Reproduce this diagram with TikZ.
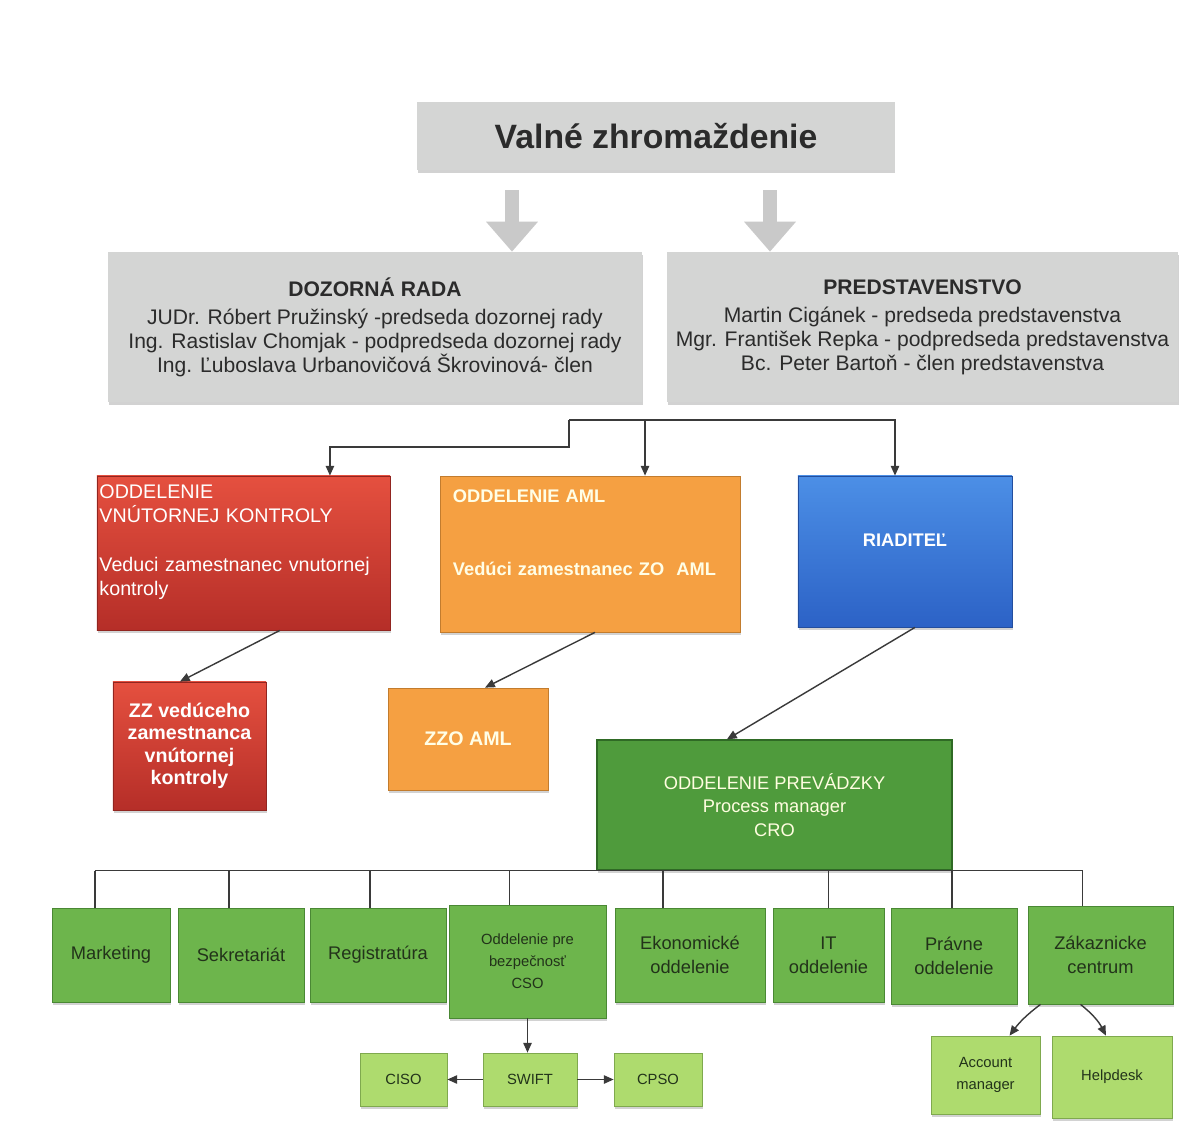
\documentclass[tikz,border=0pt]{standalone}
\usepackage{fontspec}
\setmainfont{Liberation Sans}
\usetikzlibrary{arrows.meta,shadows}
\newcommand{\fsTitle}{\fontsize{24}{28}\selectfont\bfseries}
\newcommand{\fsBoard}{\fontsize{15}{17}\selectfont}
\newcommand{\fsDept}{\fontsize{13}{17.5}\selectfont}
\newcommand{\fsUnit}{\fontsize{13}{17}\selectfont}
\newcommand{\fsLeaf}{\fontsize{10.5}{15.5}\selectfont}
\definecolor{boardgray}{HTML}{D4D5D4}
\definecolor{boardtext}{HTML}{2B2B2B}
\definecolor{redtop}{HTML}{E5503F}
\definecolor{redbot}{HTML}{B52E28}
\definecolor{amlorange}{HTML}{F5A042}
\definecolor{amledge}{HTML}{C27C2E}
\definecolor{bluetop}{HTML}{4C8FE6}
\definecolor{bluebot}{HTML}{2C62C6}
\definecolor{prevgreen}{HTML}{4F9B3C}
\definecolor{prevedge}{HTML}{2F6A25}
\definecolor{unitgreen}{HTML}{6DB54C}
\definecolor{unitedge}{HTML}{4A8834}
\definecolor{leafgreen}{HTML}{AEDB6E}
\definecolor{leafedge}{HTML}{7FA94E}
\definecolor{unittext}{HTML}{22331A}
\definecolor{linkgray}{HTML}{3A3A3A}
\definecolor{arrowgray}{HTML}{C9C9C9}
\tikzset{
  box/.style={rectangle, inner sep=2pt, align=center,
    drop shadow={shadow xshift=0.6pt, shadow yshift=-1.8pt, opacity=0.35}},
  graybox/.style={box, fill=boardgray, text=boardtext},
  redbox/.style={box, draw=redbot!80!black, line width=0.5pt, top color=redtop, bottom color=redbot, text=white},
  amlbox/.style={box, draw=amledge, line width=0.5pt, fill=amlorange, text=white!90!yellow},
  bluebox/.style={box, draw=bluebot!80!black, line width=0.5pt, top color=bluetop, bottom color=bluebot, text=white},
  prevbox/.style={box, draw=prevedge, line width=0.8pt, fill=prevgreen, text=white!88!yellow},
  unitbox/.style={box, draw=unitedge, line width=0.5pt, fill=unitgreen, text=unittext},
  leafbox/.style={box, draw=leafedge, line width=0.5pt, fill=leafgreen, text=unittext},
  link/.style={draw=linkgray, line width=1pt, -{Triangle[length=7pt,width=6pt]}},
  tie/.style={draw=linkgray, line width=0.8pt},
  bigarrow/.style={draw=arrowgray, line width=0.35cm, -{Triangle[length=0.75cm,width=1.25cm]}}
}

\begin{document}
\begin{tikzpicture}[x=0.025cm,y=-0.025cm]
     \fill[white] (0,0) rectangle (1196,1144);
     \node[graybox, font=\fsTitle, minimum width=11.925cm, minimum height=1.7cm] (vz) at (656,136) {Valné zhromaždenie};
     \node[graybox, font=\fsBoard, minimum width=13.35cm, minimum height=3.75cm] (dr) at (375,327)
        {{\bfseries DOZORNÁ RADA}\\[3pt]JUDr. Róbert Pružinský -predseda dozornej rady\\Ing. Rastislav Chomjak - podpredseda dozornej rady\\Ing. Ľuboslava Urbanovičová Škrovinová- člen};
     \node[graybox, font=\fsBoard, minimum width=12.775cm, minimum height=3.75cm] (pr) at (922.5,327)
        {{\bfseries PREDSTAVENSTVO}\\[3pt]Martin Cigánek - predseda predstavenstva\\Mgr. František Repka - podpredseda predstavenstva\\Bc. Peter Bartoň - člen predstavenstva};
     \coordinate (arrL) at (512,190);
     \coordinate (arrR) at (770,190);
     \draw[bigarrow] (arrL) -- (arrL |- dr.north);
     \draw[bigarrow] (arrR) -- (arrR |- pr.north);

     \node[redbox, font=\fontsize{14}{17.5}\selectfont, minimum width=7.325cm, minimum height=3.85cm, align=left, text width=7.2cm, inner xsep=1.5pt, text depth=88pt] (vk) at (243.5,553)
        {ODDELENIE\\VNÚTORNEJ KONTROLY\\[17pt]Veduci zamestnanec vnutornej\\kontroly};
     \node[amlbox, font=\fsDept\bfseries, minimum width=7.5cm, minimum height=3.9cm, align=left, text width=6.85cm, inner xsep=9pt, text depth=83pt] (aml) at (590,554)
        {ODDELENIE AML\\[35pt]Vedúci zamestnanec ZO\ \ AML};
     \node[bluebox, font=\fsDept\bfseries, minimum width=5.35cm, minimum height=3.775cm, text depth=16pt] (rd) at (905,551.5)
        {RIADITEĽ};
     \coordinate (split) at (569,420);
     \coordinate (step) at (569,447);
     \draw[link] (split) -- (step) -| ([xshift=2.16cm]vk.north);
     \draw[link] (split) -| ([xshift=-0.25cm]rd.north);
     \draw[link] ([xshift=1.375cm]aml.north |- split) -- ([xshift=1.375cm]aml.north);

     \node[redbox, font=\fontsize{14}{16}\selectfont\bfseries, minimum width=3.825cm, minimum height=3.2cm] (zzvk) at (189.5,746)
        {ZZ vedúceho\\zamestnanca\\vnútornej\\kontroly};
     \node[amlbox, font=\fontsize{14}{17}\selectfont\bfseries, minimum width=4cm, minimum height=2.55cm] (zzo) at (468,739)
        {ZZO AML};
     \node[prevbox, font=\fontsize{13}{16.5}\selectfont, minimum width=8.875cm, minimum height=3.25cm] (prev) at (774.5,805)
        {ODDELENIE PREVÁDZKY\\Process manager\\CRO};
     \draw[link] ([xshift=0.91cm]vk.south) -- ([xshift=-0.24cm]zzvk.north);
     \draw[link] ([xshift=0.125cm]aml.south) -- ([xshift=0.425cm]zzo.north);
     \draw[link] ([xshift=0.25cm]rd.south) -- ([xshift=-1.19cm]prev.north);

     \node[unitbox, font=\fsUnit, minimum width=2.95cm, minimum height=2.35cm] (mkt) at (111,955) {Marketing};
     \node[unitbox, font=\fsUnit, minimum width=3.15cm, minimum height=2.35cm] (sek) at (241,955) {Sekretariát};
     \node[unitbox, font=\fsUnit, minimum width=3.4cm, minimum height=2.35cm] (reg) at (378,955) {Registratúra};
     \node[unitbox, font=\fsLeaf, minimum width=3.925cm, minimum height=2.825cm] (cso) at (527.5,961.5) {Oddelenie pre\\bezpečnosť\\CSO};
     \node[unitbox, font=\fsUnit, minimum width=3.75cm, minimum height=2.35cm] (eko) at (690,955) {Ekonomické\\oddelenie};
     \node[unitbox, font=\fsUnit, minimum width=2.775cm, minimum height=2.35cm] (it) at (828.5,955) {IT\\oddelenie};
     \node[unitbox, font=\fsUnit, minimum width=3.15cm, minimum height=2.4cm] (prav) at (954,956) {Právne\\oddelenie};
     \node[unitbox, font=\fsUnit, minimum width=3.625cm, minimum height=2.45cm] (zak) at (1100.5,955) {Zákaznicke\\centrum};
     \draw[tie] ([xshift=-0.4cm]mkt.north |- prev.south) -- ([xshift=-0.44cm]zak.north |- prev.south);
     \foreach \n/\dx in {mkt/-0.4,sek/-0.3,reg/-0.2,cso/-0.46,eko/-0.675,it/0,prav/-0.05,zak/-0.44} {
       \draw[tie] ([xshift=\dx cm]\n.north |- prev.south) -- ([xshift=\dx cm]\n.north);
     }

     \node[leafbox, font=\fsLeaf, minimum width=2.175cm, minimum height=1.325cm] (ciso) at (403.5,1079.5) {CISO};
     \node[leafbox, font=\fsLeaf, minimum width=2.35cm, minimum height=1.325cm] (swift) at (530,1079.5) {SWIFT};
     \node[leafbox, font=\fsLeaf, minimum width=2.2cm, minimum height=1.325cm] (cpso) at (658,1079.5) {CPSO};
     \node[leafbox, font=\fsLeaf, minimum width=2.725cm, minimum height=1.95cm] (acc) at (985.5,1075) {Account\\manager};
     \node[leafbox, font=\fsLeaf, minimum width=3cm, minimum height=2.05cm] (help) at (1112,1077) {Helpdesk};
     \draw[link] (cso.south) -- (cso.south |- swift.north);
     \draw[link] (swift) -- (ciso);
     \draw[link] (swift) -- (cpso);
     \draw[link] ([xshift=-1.5cm]zak.south) to[bend right=8] ([xshift=0.6cm]acc.north);
     \draw[link] ([xshift=-0.5cm]zak.south) to[bend left=12] ([xshift=-0.15cm]help.north);
\end{tikzpicture}
\end{document}
